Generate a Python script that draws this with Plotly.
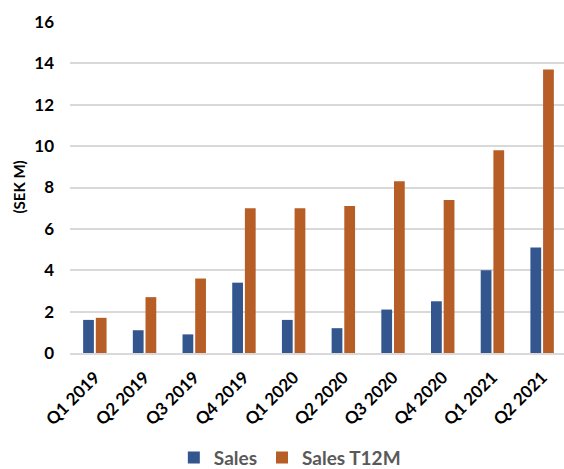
import plotly.graph_objects as go

quarters = ["Q1 2019", "Q2 2019", "Q3 2019", "Q4 2019", "Q1 2020",
            "Q2 2020", "Q3 2020", "Q4 2020", "Q1 2021", "Q2 2021"]
sales = [1.6, 1.1, 0.9, 3.4, 1.6, 1.2, 2.1, 2.5, 4.0, 5.1]
sales_t12m = [1.7, 2.7, 3.6, 7.0, 7.0, 7.1, 8.3, 7.4, 9.8, 13.7]
y_ticks = [0, 2, 4, 6, 8, 10, 12, 14, 16]

FONT = "Lato"
BLUE = "#34568F"
ORANGE = "#B75E27"

fig = go.Figure()
fig.add_trace(go.Bar(name="Sales", x=quarters, y=sales,
                     marker=dict(color=BLUE, line=dict(width=0))))
fig.add_trace(go.Bar(name="Sales T12M", x=quarters, y=sales_t12m,
                     marker=dict(color=ORANGE, line=dict(width=0))))

fig.update_layout(
    width=564, height=469,
    margin=dict(l=70, r=0, t=22, b=116, autoexpand=False),
    paper_bgcolor="white", plot_bgcolor="white",
    barmode="group", bargap=0.49, bargroupgap=0.15,
    font=dict(family=FONT, color="black"),
    showlegend=True,
    legend=dict(orientation="h", x=0.445, xanchor="center",
                yref="container", y=0.024, yanchor="middle",
                font=dict(family=FONT, size=19, color="#595959", weight="bold"),
                itemwidth=30, tracegroupgap=0),
    xaxis=dict(type="category", range=[-0.5, 9.44], tickangle=-45,
               tickfont=dict(family=FONT, size=17, color="black", weight="bold"),
               showgrid=False, showline=True, linecolor="#D9D9D9", linewidth=1.5,
               ticks="", ticklabelstandoff=6, automargin=False, fixedrange=True),
    yaxis=dict(range=[0, 16], tickvals=y_ticks, ticks="",
               tickfont=dict(family=FONT, size=17, color="black", weight="bold"),
               showgrid=True, gridcolor="#D9D9D9", gridwidth=1.5,
               zeroline=False, showline=False, ticklabelstandoff=15,
               automargin=False),
    annotations=[dict(text="(SEK M)", textangle=-90, xref="paper", yref="paper",
                      x=0, y=0.5, xshift=-52, xanchor="center", yanchor="middle",
                      showarrow=False,
                      font=dict(family=FONT, size=15, color="black", weight="bold"))],
)

fig.write_html("out.html")
